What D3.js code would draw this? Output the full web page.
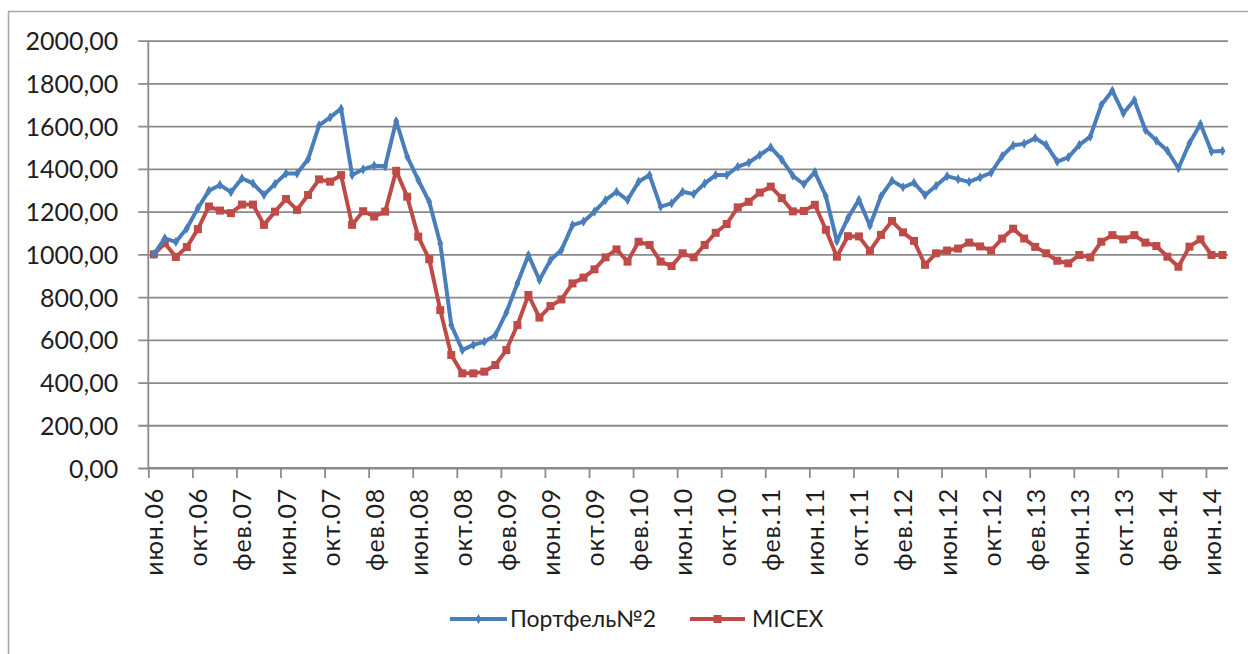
<!DOCTYPE html>
<html>
<head>
<meta charset="utf-8">
<script src="https://cdn.jsdelivr.net/npm/d3@7"></script>
<style>
  html, body { margin: 0; padding: 0; background: #ffffff; }
  svg { display: block; }
  text { font-family: Lato, "Open Sans", sans-serif; fill: #1e1e1e; }
</style>
</head>
<body>
<svg id="chart" width="1248" height="654"></svg>
<script>
// ---- Data ----
const monthNames = ["янв", "фев", "мар", "апр", "май", "июн", "июл", "авг", "сен", "окт", "ноя", "дек"];
// months from июн.06 to июл.14 (98 months)
const categories = [];
for (let k = 0; k < 98; k++) {
  const m = (5 + k) % 12;
  const yr = 6 + Math.floor((5 + k) / 12);
  categories.push(monthNames[m] + "." + String(yr).padStart(2, "0"));
}

const portfolio2 = [
  1000, 1075, 1058, 1122, 1216, 1298, 1325, 1291, 1356, 1332,
  1278, 1330, 1379, 1378, 1445, 1604, 1641, 1682, 1371, 1398,
  1415, 1412, 1624, 1457, 1348, 1246, 1051, 669, 552, 576,
  591, 622, 728, 864, 997, 880, 973, 1020, 1137, 1153,
  1200, 1254, 1293, 1254, 1340, 1371, 1223, 1239, 1293, 1282,
  1332, 1371, 1371, 1410, 1429, 1465, 1501, 1443, 1368, 1328,
  1385, 1272, 1061, 1170, 1255, 1134, 1272, 1345, 1314, 1335,
  1277, 1321, 1366, 1352, 1339, 1360, 1382, 1460, 1510, 1518,
  1544, 1512, 1434, 1454, 1512, 1551, 1699, 1766, 1660, 1722,
  1582, 1532, 1485, 1403, 1520, 1610, 1481, 1484
];

const micex = [
  1000, 1052, 988, 1034, 1118, 1224, 1205, 1193, 1233, 1233,
  1138, 1200, 1259, 1208, 1278, 1351, 1340, 1371, 1138, 1202,
  1177, 1200, 1391, 1270, 1083, 977, 739, 529, 443, 443,
  451, 482, 552, 669, 810, 704, 758, 789, 864, 891,
  930, 986, 1023, 966, 1059, 1044, 966, 945, 1005, 986,
  1044, 1101, 1142, 1220, 1246, 1289, 1317, 1263, 1201, 1203,
  1232, 1115, 989, 1085, 1084, 1016, 1091, 1156, 1103, 1063,
  951, 1005, 1018, 1027, 1055, 1037, 1018, 1074, 1120, 1074,
  1035, 1005, 970, 958, 997, 986, 1059, 1090, 1070, 1090,
  1055, 1039, 989, 942, 1036, 1070, 997, 997
];

const yTicks = [0, 200, 400, 600, 800, 1000, 1200, 1400, 1600, 1800, 2000];
const labelEvery = 4;
const seriesNames = ["Портфель№2", "MICEX"];

// ---- Layout ----
const svg = d3.select("#chart");
const pL = 148.3, pR = 1228, pT = 40.7, pB = 468;
const W = pR - pL;
const blue = "#4a7ebb", red = "#be4b48";
const gridColor = "#8a8a8a";
const yFont = 25, xFont = 25, legendFont = 23;

// chart border
svg.append("rect")
  .attr("x", 8.5).attr("y", 11.5)
  .attr("width", 1300).attr("height", 700)
  .attr("fill", "none").attr("stroke", "#a6a6a6").attr("stroke-width", 1.5);

const x = d3.scalePoint().domain(categories).range([pL, pR]).padding(0.5);
const step = x.step();
const y = d3.scaleLinear().domain([0, 2000]).range([pB, pT]);

// Y axis with gridlines
const fmt = d => d3.format(".2f")(d).replace(".", ",");
const yAxis = svg.append("g")
  .attr("transform", `translate(${pL},0)`)
  .call(d3.axisLeft(y).tickValues(yTicks).tickFormat(fmt).tickSize(10).tickPadding(30));
yAxis.select(".domain").remove();
yAxis.selectAll(".tick line")
  .attr("x1", -10).attr("x2", W)
  .attr("stroke", gridColor).attr("stroke-width", 1.8);
yAxis.selectAll(".tick text")
  .attr("x", -30)
  .attr("dy", "0.36em")
  .style("font-size", yFont + "px")
  .style("font-family", "Lato, sans-serif")
  .attr("fill", "#1e1e1e");

// vertical axis line
svg.append("line")
  .attr("x1", pL).attr("x2", pL).attr("y1", pT).attr("y2", pB)
  .attr("stroke", gridColor).attr("stroke-width", 1.8);

// X axis
const labelCats = categories.filter((d, i) => i % labelEvery === 0);
const xAxis = svg.append("g")
  .attr("transform", `translate(0,${pB})`)
  .call(d3.axisBottom(x).tickValues(labelCats).tickSize(10).tickSizeOuter(0));
xAxis.select(".domain")
  .attr("d", `M${pL},0H${pR}`)
  .attr("stroke", gridColor).attr("stroke-width", 1.8);
xAxis.selectAll(".tick line")
  .attr("x1", -step / 2).attr("x2", -step / 2)
  .attr("y1", 0).attr("y2", 10)
  .attr("stroke", gridColor).attr("stroke-width", 1.8);
xAxis.selectAll(".tick text")
  .attr("y", 0).attr("dy", "0.36em")
  .attr("transform", "translate(0,20) rotate(-90)")
  .attr("text-anchor", "end")
  .style("font-size", xFont + "px")
  .style("letter-spacing", "0.8px")
  .style("font-family", "Lato, sans-serif")
  .attr("fill", "#1e1e1e");

// Lines
const lineGen = vals => d3.line()
  .x((d, i) => x(categories[i]))
  .y(d => y(d))(vals);

svg.append("path").attr("d", lineGen(micex))
  .attr("fill", "none").attr("stroke", red).attr("stroke-width", 4)
  .attr("stroke-linejoin", "round");
svg.append("g").selectAll("rect").data(micex).join("rect")
  .attr("x", (d, i) => x(categories[i]) - 4)
  .attr("y", d => y(d) - 4)
  .attr("width", 8).attr("height", 8)
  .attr("fill", red);

svg.append("path").attr("d", lineGen(portfolio2))
  .attr("fill", "none").attr("stroke", blue).attr("stroke-width", 4)
  .attr("stroke-linejoin", "round");
const diamond = d3.symbol().type(d3.symbolDiamond).size(30);
svg.append("g").selectAll("path").data(portfolio2).join("path")
  .attr("d", diamond)
  .attr("transform", (d, i) => `translate(${x(categories[i])},${y(d)})`)
  .attr("fill", blue);

// Legend
const legendY = 619;
const legend = [
  { name: seriesNames[0], color: blue, x1: 450, x2: 507, tx: 510, marker: "diamond" },
  { name: seriesNames[1], color: red, x1: 690, x2: 745, tx: 752, marker: "square" }
];
legend.forEach(l => {
  svg.append("line").attr("x1", l.x1).attr("x2", l.x2).attr("y1", legendY).attr("y2", legendY)
    .attr("stroke", l.color).attr("stroke-width", 4);
  const cx = (l.x1 + l.x2) / 2;
  if (l.marker === "square") {
    svg.append("rect").attr("x", cx - 4).attr("y", legendY - 4).attr("width", 8).attr("height", 8).attr("fill", l.color);
  } else {
    svg.append("path").attr("d", diamond).attr("transform", `translate(${cx},${legendY})`).attr("fill", l.color);
  }
  svg.append("text").attr("x", l.tx).attr("y", legendY).attr("dy", "0.36em")
    .style("font-size", legendFont + "px").text(l.name);
});
</script>
</body>
</html>
